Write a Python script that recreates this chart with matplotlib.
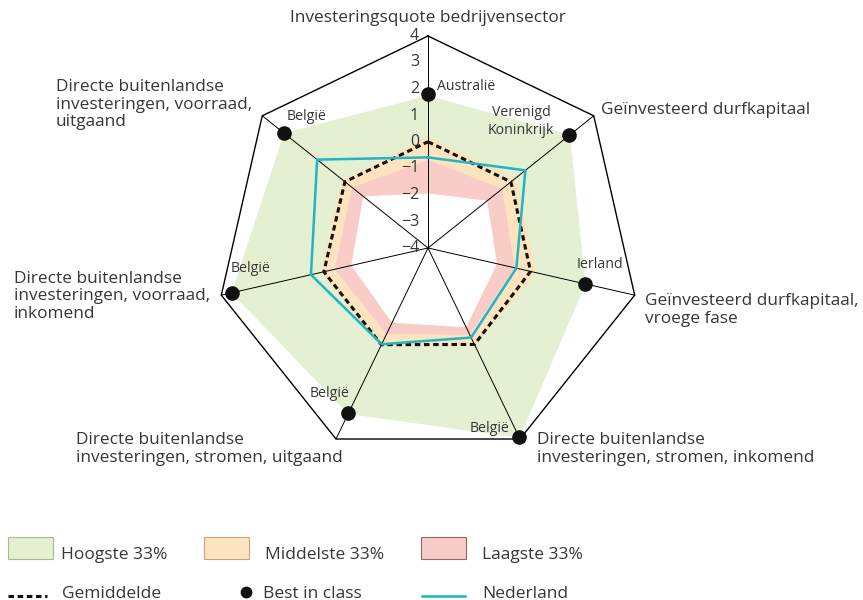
import numpy as np
import matplotlib
matplotlib.use('Agg')
import matplotlib.pyplot as plt
from matplotlib.patches import Rectangle

plt.rcParams['font.family'] = ['Open Sans', 'DejaVu Sans']

# data
categories = ['Investeringsquote bedrijvensector',
              'Geïnvesteerd durfkapitaal',
              'Geïnvesteerd durfkapitaal,\nvroege fase',
              'Directe buitenlandse\ninvesteringen, stromen, inkomend',
              'Directe buitenlandse\ninvesteringen, stromen, uitgaand',
              'Directe buitenlandse\ninvesteringen, voorraad,\ninkomend',
              'Directe buitenlandse\ninvesteringen, voorraad,\nuitgaand']
best_country = ['Australië', 'Verenigd\nKoninkrijk', 'Ierland', 'België',
                'België', 'België', 'België']
best = [1.81, 2.81, 2.09, 3.93, 2.93, 3.57, 2.93]
hoogste_max = [1.75, 2.85, 2.10, 3.95, 2.95, 3.60, 2.95]
middelste_max = [0.19, 0.25, 0.20, 0.10, 0.10, 0.15, 0.15]
laagste_max = [-0.68, -0.42, -0.65, -0.37, -0.40, -0.39, -0.34]
laagste_min = [-1.94, -1.14, -1.33, -0.68, -0.87, -1.03, -0.88]
gemiddelde = [0.01, 0.00, -0.03, 0.04, 0.05, 0.03, 0.01]
nederland = [-0.58, 0.70, -0.58, -0.25, 0.03, 0.53, 1.35]
ticks = [4, 3, 2, 1, 0, -1, -2, -3, -4]

GREEN = '#e5efd1'
ORANGE = '#fde3be'
PINK = '#f9ccc8'
TEAL = '#1fb5c4'
TXT = '#363636'

n = len(categories)
theta = np.arange(n) * 2 * np.pi / n
tc = np.append(theta, theta[0])

def closed(v):
    return np.append(v, v[0])

fig = plt.figure(figsize=(8.63, 6.0), dpi=100)
ax = fig.add_axes([(428 - 212) / 863, (600 - 248 - 212) / 600, 424 / 863, 424 / 600],
                  projection='polar')
ax.set_theta_zero_location('N')
ax.set_theta_direction(-1)
ax.set_ylim(-4, 4)
ax.grid(False)
ax.spines['polar'].set_visible(False)
ax.set_xticks([])
ax.set_yticks([])
ax.patch.set_alpha(0)

# bands
ax.fill(tc, closed(hoogste_max), color=GREEN, lw=0, zorder=1)
ax.fill(tc, closed(middelste_max), color=ORANGE, lw=0, zorder=2)
ax.fill(tc, closed(laagste_max), color=PINK, lw=0, zorder=3)
ax.fill(tc, closed(laagste_min), color='white', lw=0, zorder=4)

# frame and spokes
ax.plot(tc, [4] * (n + 1), color='black', lw=1.0, zorder=5, clip_on=False)
for t in theta:
    ax.plot([t, t], [-4, 4], color='black', lw=0.7, zorder=5, clip_on=False)

ax.plot(tc, closed(gemiddelde), color='#111111', lw=2.2,
        linestyle=(0, (1.8, 1.2)), zorder=6)
ax.plot(tc, closed(nederland), color=TEAL, lw=1.8, zorder=7)
ax.plot(theta, best, 'o', color='#111111', ms=9.5, zorder=8, clip_on=False)

# radial tick labels
for v in ticks:
    lab = str(v).replace('-', '\u2212')
    ax.annotate(lab, (0, v), xytext=(-9, 0), textcoords='offset pixels',
                ha='right', va='center', fontsize=11.5, color=TXT, zorder=9)

# category labels
cat_pos = [((0, 18), 'center'),
           ((7, 6), 'left'),
           ((10, -15), 'left'),
           ((17, -10), 'left'),
           ((7, -10), 'right'),
           ((-11, -1), 'right'),
           ((-10, 11), 'right')]
for t, c, (off, ha) in zip(theta, categories, cat_pos):
    ax.annotate(c, (t, 4), xytext=off, textcoords='offset pixels', ha=ha, va='center',
                multialignment='left', fontsize=12.4, color=TXT, linespacing=1.13,
                annotation_clip=False)

# best in class labels
best_off = [(9, 8, 'left'), (-48, 14, 'center'), (15, 19, 'center'),
            (-30, 9, 'center'), (-19, 20, 'center'), (18, 24, 'center'),
            (22, 17, 'center')]
for t, v, c, (dx, dy, ha) in zip(theta, best, best_country, best_off):
    ax.annotate(c, (t, v), xytext=(dx, dy), textcoords='offset pixels', ha=ha,
                va='center', fontsize=10.2, color=TXT, linespacing=1.2,
                annotation_clip=False, zorder=9)

# legend
lg = fig.add_axes([0, 0, 1, 80 / 600])
lg.set_xlim(0, 863)
lg.set_ylim(600, 520)
lg.axis('off')
for x, fc, ec, lab, tx in [(8, GREEN, '#a9b98f', 'Hoogste 33%', 61),
                           (204, ORANGE, '#c9a77a', 'Middelste 33%', 265),
                           (421, PINK, '#8f6b68', 'Laagste 33%', 482)]:
    lg.add_patch(Rectangle((x, 537), 45, 22, facecolor=fc, edgecolor=ec, lw=0.8))
    lg.text(tx, 559, lab, fontsize=12.5, color=TXT, va='baseline')
lg.plot([8, 47], [596, 596], color='#111111', lw=2.2, linestyle=(0, (1.8, 1.2)))
lg.text(62, 597.5, 'Gemiddelde', fontsize=12.5, color=TXT, va='baseline')
lg.plot([246], [592], 'o', color='#111111', ms=7.5)
lg.text(263, 597.5, 'Best in class', fontsize=12.5, color=TXT, va='baseline')
lg.plot([422, 465], [596, 596], color=TEAL, lw=1.8)
lg.text(482, 597.5, 'Nederland', fontsize=12.5, color=TXT, va='baseline')

fig.savefig('out.png', dpi=100)
